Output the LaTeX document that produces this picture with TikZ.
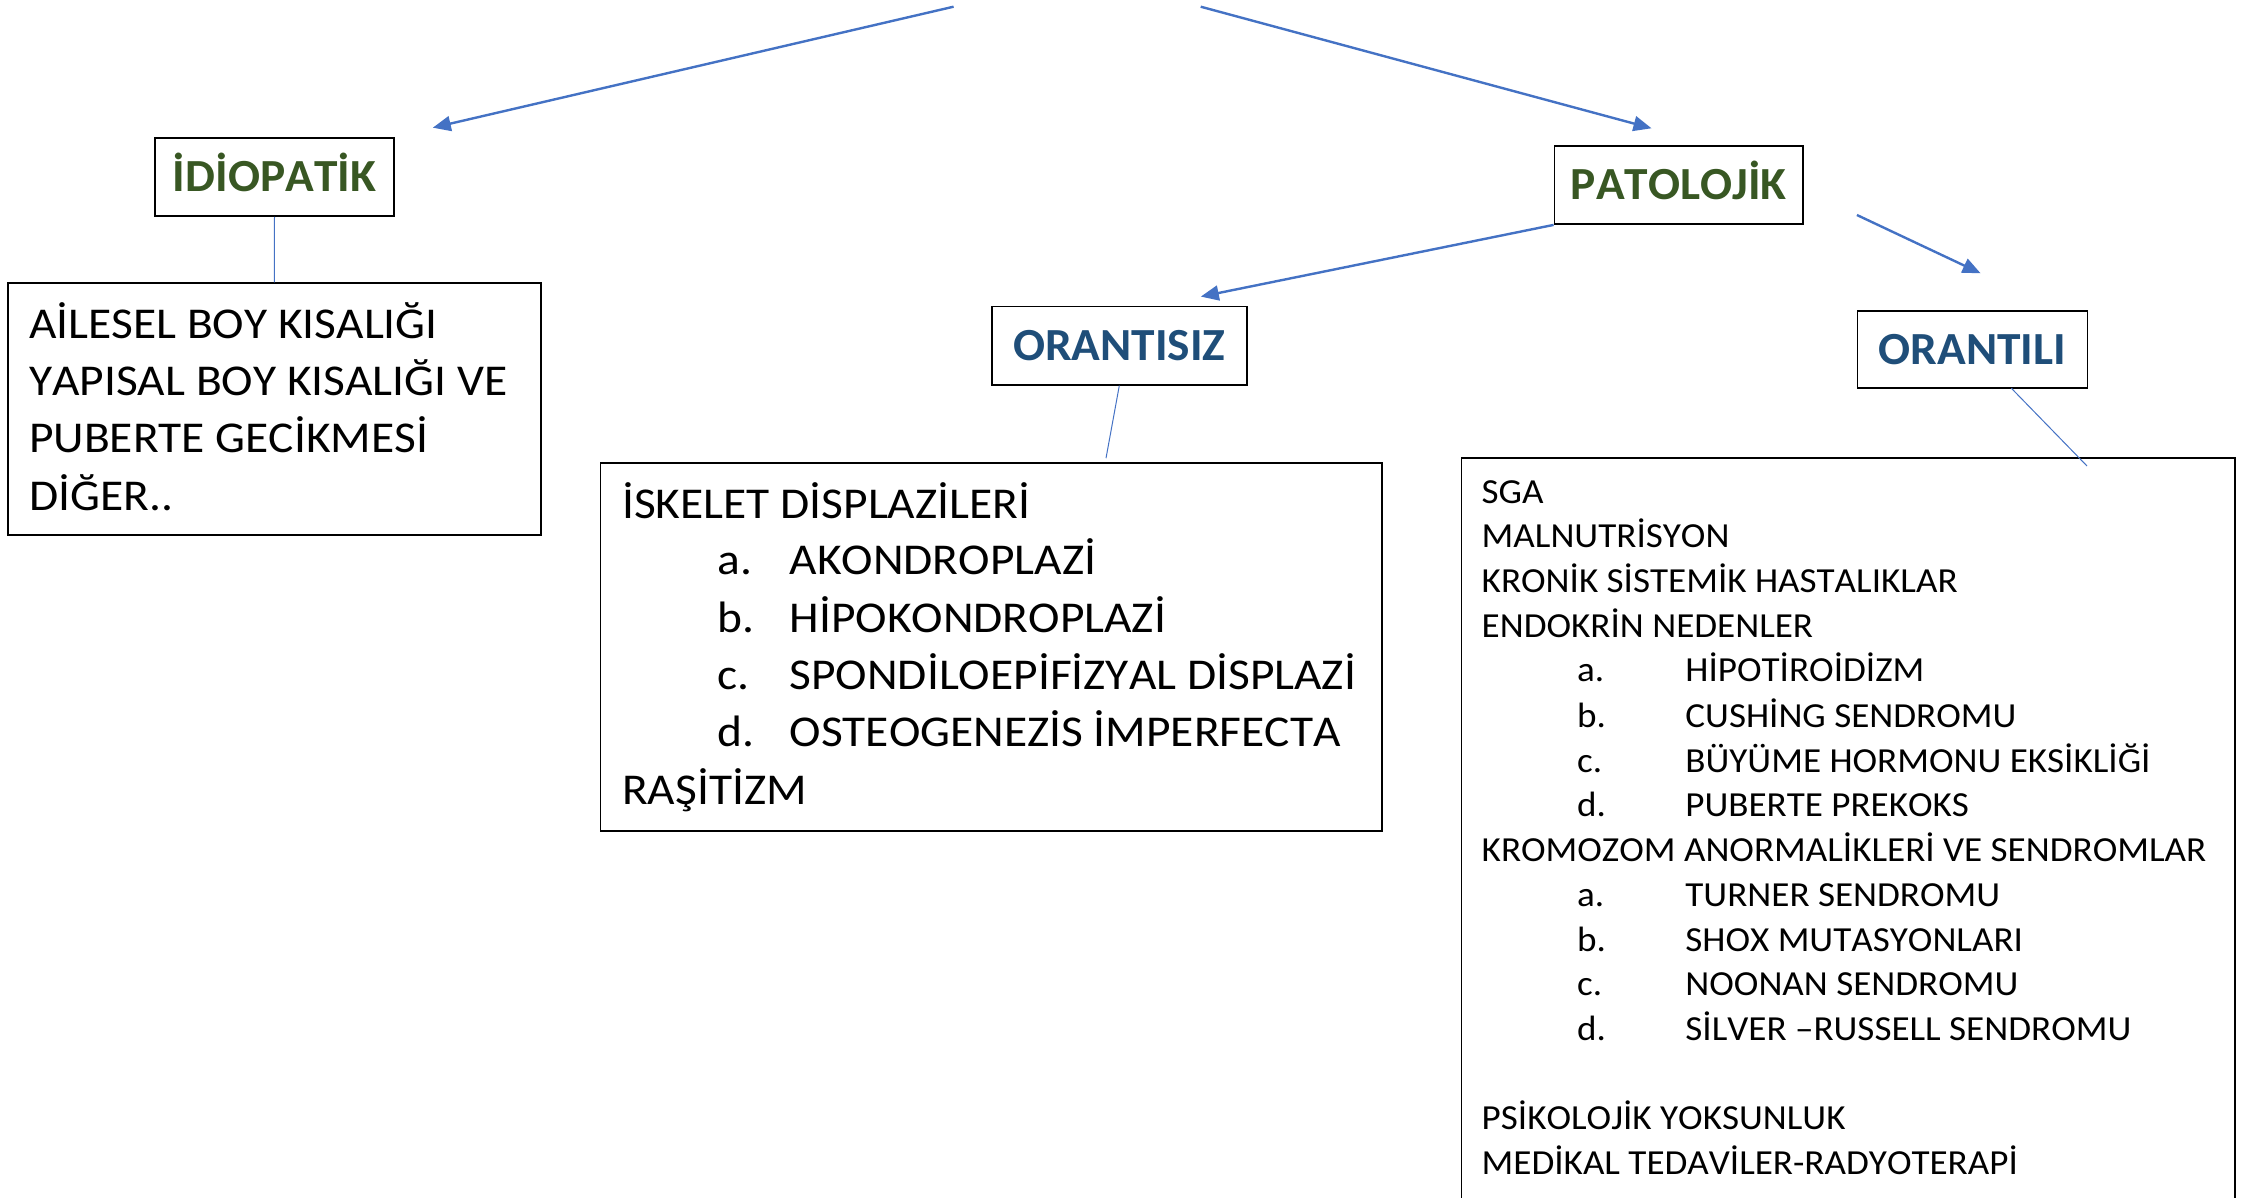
\documentclass[tikz,border=0pt]{standalone}
\usepackage{fontspec}
\setmainfont{Carlito}
\newfontfamily\bigfamily[FakeStretch=1.078,Kerning=Off]{Carlito}
\newfontfamily\smallfamily[FakeStretch=1.054,Kerning=Off]{Carlito}
\newfontfamily\titlefamily[FakeStretch=1.03,Kerning=Off]{Carlito}
\usetikzlibrary{arrows.meta}
\definecolor{arrowblue}{HTML}{4472C4}
\definecolor{titlegreen}{HTML}{385723}
\definecolor{titleblue}{HTML}{1F4E79}
\begin{document}
\begin{tikzpicture}[x=0.5pt,y=-0.5pt,
  box/.style={draw=black,line width=0.9pt,rectangle,inner sep=0pt},
  gtitle/.style={box,text=titlegreen,font=\titlefamily\fontsize{23}{27}\selectfont\bfseries,text height=14.6pt,text depth=0pt},
  btitle/.style={box,text=titleblue,font=\titlefamily\fontsize{23}{27}\selectfont\bfseries,text height=14.6pt,text depth=0pt},
  bigtxt/.style={anchor=base west,inner sep=0pt,font=\bigfamily\fontsize{22}{26}\selectfont},
  smalltxt/.style={anchor=base west,inner sep=0pt,font=\smallfamily\fontsize{17.6}{21}\selectfont},
  flow/.style={draw=arrowblue,line width=1.2pt,-{Triangle[length=9pt,width=7.5pt]}},
  link/.style={draw=arrowblue,line width=0.5pt}]
\useasboundingbox (0,0) rectangle (2249,1198);
\clip (0,0) rectangle (2249,1198);

% title boxes
\node[gtitle,minimum width=119.5pt,minimum height=38.85pt] (idio) at (274.5,177.2) {İDİOPATİK};
\node[gtitle,minimum width=124.25pt,minimum height=39pt] (pato) at (1678.75,185) {PATOLOJİK};
\node[btitle,minimum width=127.7pt,minimum height=39.1pt] (ors) at (1119.3,345.6) {ORANTISIZ};
\node[btitle,minimum width=115pt,minimum height=38.8pt] (orl) at (1972.55,349.5) {ORANTILI};

% content boxes
\node[box,minimum width=266.55pt,minimum height=126pt] (ail) at (274.25,409.3) {};
\node[box,minimum width=390.7pt,minimum height=184pt] (isk) at (991.1,647) {};
\node[box,minimum width=386.75pt,minimum height=386pt] (sga) at (1848.25,844) {};

% idiopatik texts
\node[bigtxt] (a1) at (28.7,338.3) {AİLESEL BOY KISALIĞI};
\node[bigtxt] (a2) at (28.7,395.7) {YAPISAL BOY KISALIĞI VE};
\node[bigtxt] (a3) at (28.7,452.7) {PUBERTE GECİKMESİ};
\node[bigtxt] (a4) at (28.7,510) {DİĞER..};

% orantisiz texts
\node[bigtxt] (i1) at (621.8,518.2) {İSKELET DİSPLAZİLERİ};
\node[bigtxt] (i2l) at (717,574.5) {a.};
\node[bigtxt] (i2) at (789.2,574.5) {AKONDROPLAZİ};
\node[bigtxt] (i3l) at (717,632) {b.};
\node[bigtxt] (i3) at (789.2,632) {HİPOKONDROPLAZİ};
\node[bigtxt] (i4l) at (717,689.8) {c.};
\node[bigtxt] (i4) at (789.2,689.8) {SPONDİLOEPİFİZYAL DİSPLAZİ};
\node[bigtxt] (i5l) at (717,746.5) {d.};
\node[bigtxt] (i5) at (789.2,746.5) {OSTEOGENEZİS İMPERFECTA};
\node[bigtxt] (i6) at (621.8,804.7) {RAŞİTİZM};

% orantili texts
\node[smalltxt] (s1) at (1481.3,503.8) {SGA};
\node[smalltxt] (s2) at (1481.3,547.2) {MALNUTRİSYON};
\node[smalltxt] (s3) at (1481.3,592.2) {KRONİK SİSTEMİK HASTALIKLAR};
\node[smalltxt] (s4) at (1481.3,637) {ENDOKRİN NEDENLER};
\node[smalltxt] (s5l) at (1576.7,681.5) {a.};
\node[smalltxt] (s5) at (1685,681.5) {HİPOTİROİDİZM};
\node[smalltxt] (s6l) at (1576.7,727.4) {b.};
\node[smalltxt] (s6) at (1685,727.4) {CUSHİNG SENDROMU};
\node[smalltxt] (s7l) at (1576.7,772.4) {c.};
\node[smalltxt] (s7) at (1685,772.4) {BÜYÜME HORMONU EKSİKLİĞİ};
\node[smalltxt] (s8l) at (1576.7,816.8) {d.};
\node[smalltxt] (s8) at (1685,816.8) {PUBERTE PREKOKS};
\node[smalltxt] (s9) at (1481.3,861.7) {KROMOZOM ANORMALİKLERİ VE SENDROMLAR};
\node[smalltxt] (s10l) at (1576.7,906.7) {a.};
\node[smalltxt] (s10) at (1685,906.7) {TURNER SENDROMU};
\node[smalltxt] (s11l) at (1576.7,951) {b.};
\node[smalltxt] (s11) at (1685,951) {SHOX MUTASYONLARI};
\node[smalltxt] (s12l) at (1576.7,995.6) {c.};
\node[smalltxt] (s12) at (1685,995.6) {NOONAN SENDROMU};
\node[smalltxt] (s13l) at (1576.7,1040.5) {d.};
\node[smalltxt] (s13) at (1685,1040.5) {SİLVER –RUSSELL SENDROMU};
\node[smalltxt] (s14) at (1481.3,1129.9) {PSİKOLOJİK YOKSUNLUK};
\node[smalltxt] (s15) at (1481.3,1174.3) {MEDİKAL TEDAVİLER-RADYOTERAPİ};

% free connector ends
\coordinate (topL) at (953.6,6.7);
\coordinate (tipL) at (432.8,127.7);
\coordinate (topR) at (1200.7,6.7);
\coordinate (tipR) at (1651.5,128.3);
\coordinate (tipOrs) at (1200.8,296.6);
\coordinate (startOrl) at (1856.9,215);
\coordinate (tipOrl) at (1980.6,273.3);
\coordinate (orsEnd) at (1106,458.2);
\coordinate (orlStart) at (2011.4,388.3);
\coordinate (orlEnd) at (2087,466);

% connectors
\draw[flow] (topL) -- (tipL);
\draw[flow] (topR) -- (tipR);
\draw[flow] (pato.south west) -- (tipOrs);
\draw[flow] (startOrl) -- (tipOrl);
\draw[link] (idio.south) -- (ail.north);
\draw[link] (ors.south) -- (orsEnd);
\draw[link] (orlStart) -- (orlEnd);
\end{tikzpicture}
\end{document}
